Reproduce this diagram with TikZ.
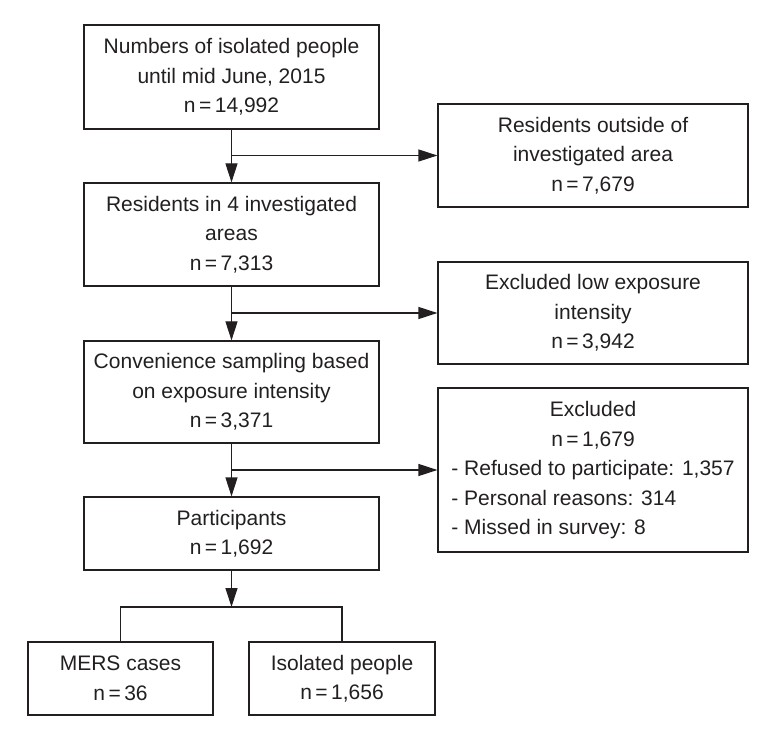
\documentclass[tikz,border=0pt]{standalone}
\usepackage{fontspec}
\setmainfont{Liberation Sans}
\usetikzlibrary{arrows.meta}
\definecolor{ink}{HTML}{231F20}
\begin{document}
\begin{tikzpicture}[x=1pt,y=-1pt,
  box/.style={draw=ink,line width=1.2pt,text=ink,align=center,inner sep=0pt,
    font=\fontsize{21}{29.5}\selectfont},
  arr/.style={draw=ink,line width=1.2pt,-{Triangle[length=19pt,width=12pt]}},
  ln/.style={draw=ink,line width=1.2pt}]
\useasboundingbox (0,0) rectangle (777,738);
\node[box,minimum width=295pt,minimum height=104pt] (b1) at (231.5,77)
  {Numbers of isolated people\\until mid June, 2015\\n\,=\,14,992};
\node[box,minimum width=295pt,minimum height=103pt] (b2) at (231.5,234.5)
  {Residents in 4 investigated\\areas\\n\,=\,7,313};
\node[box,minimum width=295pt,minimum height=102pt] (b3) at (231.5,392)
  {Convenience sampling based\\on exposure intensity\\n\,=\,3,371};
\node[box,minimum width=295pt,minimum height=73pt] (b4) at (231.5,533.5)
  {Participants\\n\,=\,1,692};
\node[box,minimum width=310pt,minimum height=103pt] (r1) at (593,155.5)
  {Residents outside of\\investigated area\\n\,=\,7,679};
\node[box,minimum width=310pt,minimum height=102pt] (r2) at (593,313)
  {Excluded low exposure\\intensity\\n\,=\,3,942};
\node[box,minimum width=310pt,minimum height=164pt] (r3) at (593,470)
  {\begin{tabular}{@{}l@{}}
   \multicolumn{1}{@{}c@{}}{Excluded}\\
   \multicolumn{1}{@{}c@{}}{n\,=\,1,679}\\
   - Refused to participate: 1,357\\
   - Personal reasons: 314\\
   - Missed in survey: 8
   \end{tabular}};
\node[box,minimum width=185pt,minimum height=73pt] (m1) at (120.5,678.5)
  {MERS cases\\n\,=\,36};
\node[box,minimum width=186pt,minimum height=73pt] (m2) at (342,678.5)
  {Isolated people\\n\,=\,1,656};
\draw[arr] (b1.south) -- (b2.north);
\draw[arr] (b1.south |- r1.west) -- (r1.west);
\draw[arr] (b2.south) -- (b3.north);
\draw[arr] (b2.south |- r2.west) -- (r2.west);
\draw[arr] (b3.south) -- (b4.north);
\draw[arr] (b3.south |- r3.west) -- (r3.west);
\coordinate (split) at (231.5,607);
\draw[arr] (b4.south) -- (split);
\draw[ln] (m1.north) -- (m1.north |- split) -- (m2.north |- split) -- (m2.north);
\end{tikzpicture}
\end{document}
